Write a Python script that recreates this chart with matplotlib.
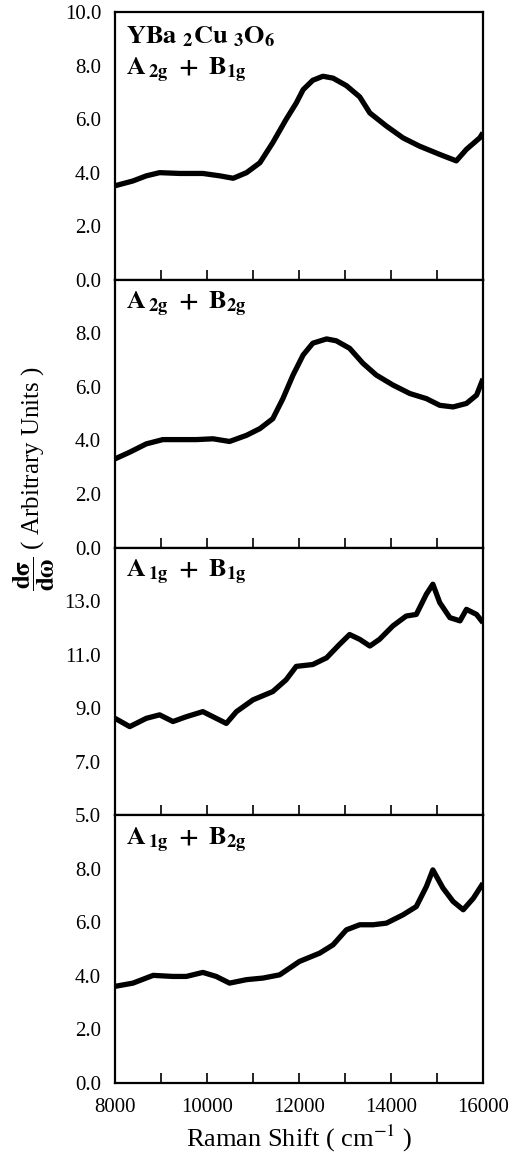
import matplotlib
matplotlib.use("Agg")
import matplotlib.pyplot as plt
from matplotlib.ticker import MultipleLocator, FixedLocator, NullFormatter

plt.rcParams["font.family"] = ["Liberation Serif", "DejaVu Serif"]
plt.rcParams["mathtext.fontset"] = "stix"

# Raman shift (cm^-1) and cross-section values for each symmetry channel
shift_a2g_b1g = [8000, 8390, 8680, 8970, 9410, 9910, 10280, 10570, 10860, 11150,
                 11430, 11720, 11940, 12090, 12300, 12520, 12740, 13030, 13320,
                 13540, 13900, 14260, 14620, 15060, 15420, 15640, 15930, 16000]
sigma_a2g_b1g = [3.51, 3.69, 3.88, 4.00, 3.97, 3.97, 3.88, 3.79, 4.00, 4.37,
                 5.12, 5.99, 6.60, 7.10, 7.45, 7.60, 7.53, 7.25, 6.83,
                 6.23, 5.74, 5.30, 4.99, 4.68, 4.44, 4.87, 5.30, 5.49]

shift_a2g_b2g = [8000, 8320, 8680, 9040, 9770, 10130, 10490, 10860, 11150, 11430,
                 11650, 11870, 12090, 12300, 12600, 12810, 13100, 13390, 13680,
                 14040, 14410, 14770, 15060, 15350, 15640, 15860, 16000]
sigma_a2g_b2g = [3.31, 3.56, 3.87, 4.03, 4.03, 4.06, 3.96, 4.19, 4.44, 4.81,
                 5.56, 6.44, 7.19, 7.63, 7.79, 7.72, 7.44, 6.88, 6.44,
                 6.07, 5.75, 5.56, 5.31, 5.25, 5.38, 5.69, 6.30]

shift_a1g_b1g = [8000, 8320, 8680, 8970, 9260, 9550, 9910, 10130, 10420, 10640,
                 11000, 11430, 11720, 11940, 12300, 12600, 12880, 13100, 13320,
                 13540, 13750, 14040, 14330, 14550, 14770, 14910, 15060, 15280,
                 15500, 15640, 15860, 16000]
sigma_a1g_b1g = [8.62, 8.31, 8.62, 8.75, 8.50, 8.68, 8.87, 8.68, 8.43, 8.87,
                 9.31, 9.62, 10.06, 10.56, 10.63, 10.88, 11.38, 11.75, 11.57,
                 11.32, 11.57, 12.07, 12.44, 12.50, 13.26, 13.63, 12.94, 12.38,
                 12.26, 12.69, 12.50, 12.19]

shift_a1g_b2g = [8000, 8390, 8830, 9260, 9550, 9910, 10200, 10490, 10860, 11220,
                 11580, 12010, 12450, 12740, 13030, 13320, 13610, 13900, 14260,
                 14550, 14770, 14910, 15130, 15350, 15570, 15790, 16000]
sigma_a1g_b2g = [3.61, 3.73, 4.02, 3.98, 3.98, 4.13, 3.98, 3.73, 3.86, 3.92,
                 4.04, 4.54, 4.85, 5.16, 5.72, 5.91, 5.91, 5.97, 6.28,
                 6.59, 7.34, 7.96, 7.28, 6.78, 6.47, 6.90, 7.46]

panel_labels = [r"$\mathbf{A\,_{2g}\ +\ B_{1g}}$", r"$\mathbf{A\,_{2g}\ +\ B_{2g}}$",
                r"$\mathbf{A\,_{1g}\ +\ B_{1g}}$", r"$\mathbf{A\,_{1g}\ +\ B_{2g}}$"]
compound = r"$\mathbf{YBa\ {}_{2}Cu\ {}_{3}O_{6}}$"

y_ranges = [(0, 10), (0, 10), (5, 15), (0, 10)]
y_ticks = [[0, 2, 4, 6, 8, 10], [0, 2, 4, 6, 8], [5, 7, 9, 11, 13], [0, 2, 4, 6, 8]]
x_major = [8000, 10000, 12000, 14000, 16000]

series = [(shift_a2g_b1g, sigma_a2g_b1g), (shift_a2g_b2g, sigma_a2g_b2g),
          (shift_a1g_b1g, sigma_a1g_b1g), (shift_a1g_b2g, sigma_a1g_b2g)]

W, H = 512, 1156
fig = plt.figure(figsize=(W / 100, H / 100), dpi=100)
gs = fig.add_gridspec(4, 1, left=115 / W, right=483 / W,
                      top=1 - 12 / H, bottom=1 - 1083 / H, hspace=0)

for i, (xs, ys) in enumerate(series):
    ax = fig.add_subplot(gs[i])
    ax.plot(xs, ys, color="black", lw=3.8, solid_joinstyle="round",
            solid_capstyle="butt")
    ax.set_xlim(8000, 16000)
    ax.set_ylim(*y_ranges[i])
    ax.yaxis.set_major_locator(FixedLocator(y_ticks[i]))
    ax.set_yticklabels([f"{v:.1f}" for v in y_ticks[i]])
    ax.xaxis.set_major_locator(FixedLocator(x_major))
    ax.xaxis.set_minor_locator(MultipleLocator(1000))
    ax.tick_params(axis="y", length=0, pad=10, labelsize=15)
    ax.tick_params(axis="x", which="both", direction="in", length=7, width=1.2,
                   top=False, labelsize=15, pad=11)
    if i < 3:
        ax.xaxis.set_major_formatter(NullFormatter())
    else:
        ax.set_xticklabels([str(v) for v in x_major])
        ax.set_xlabel("Raman Shift ( cm$^{-1}$ )", fontsize=19, labelpad=4)
    for sp in ax.spines.values():
        sp.set_linewidth(1.6)
    if i == 0:
        ax.annotate(compound, xy=(0, 1), xycoords="axes fraction",
                    xytext=(11, -31), textcoords="offset pixels",
                    fontsize=19, va="baseline", ha="left")
        ax.annotate(panel_labels[i], xy=(0, 1), xycoords="axes fraction",
                    xytext=(11, -63), textcoords="offset pixels",
                    fontsize=19, va="baseline", ha="left")
    else:
        ax.annotate(panel_labels[i], xy=(0, 1), xycoords="axes fraction",
                    xytext=(11, -30), textcoords="offset pixels",
                    fontsize=19, va="baseline", ha="left")

fig.text(34 / W, 1 - 478 / H,
         r"$\mathbf{\dfrac{d\sigma}{d\omega}}$ ( Arbitrary Units )",
         rotation=90, ha="center", va="center", fontsize=18)

fig.savefig("out.png", dpi=100)
